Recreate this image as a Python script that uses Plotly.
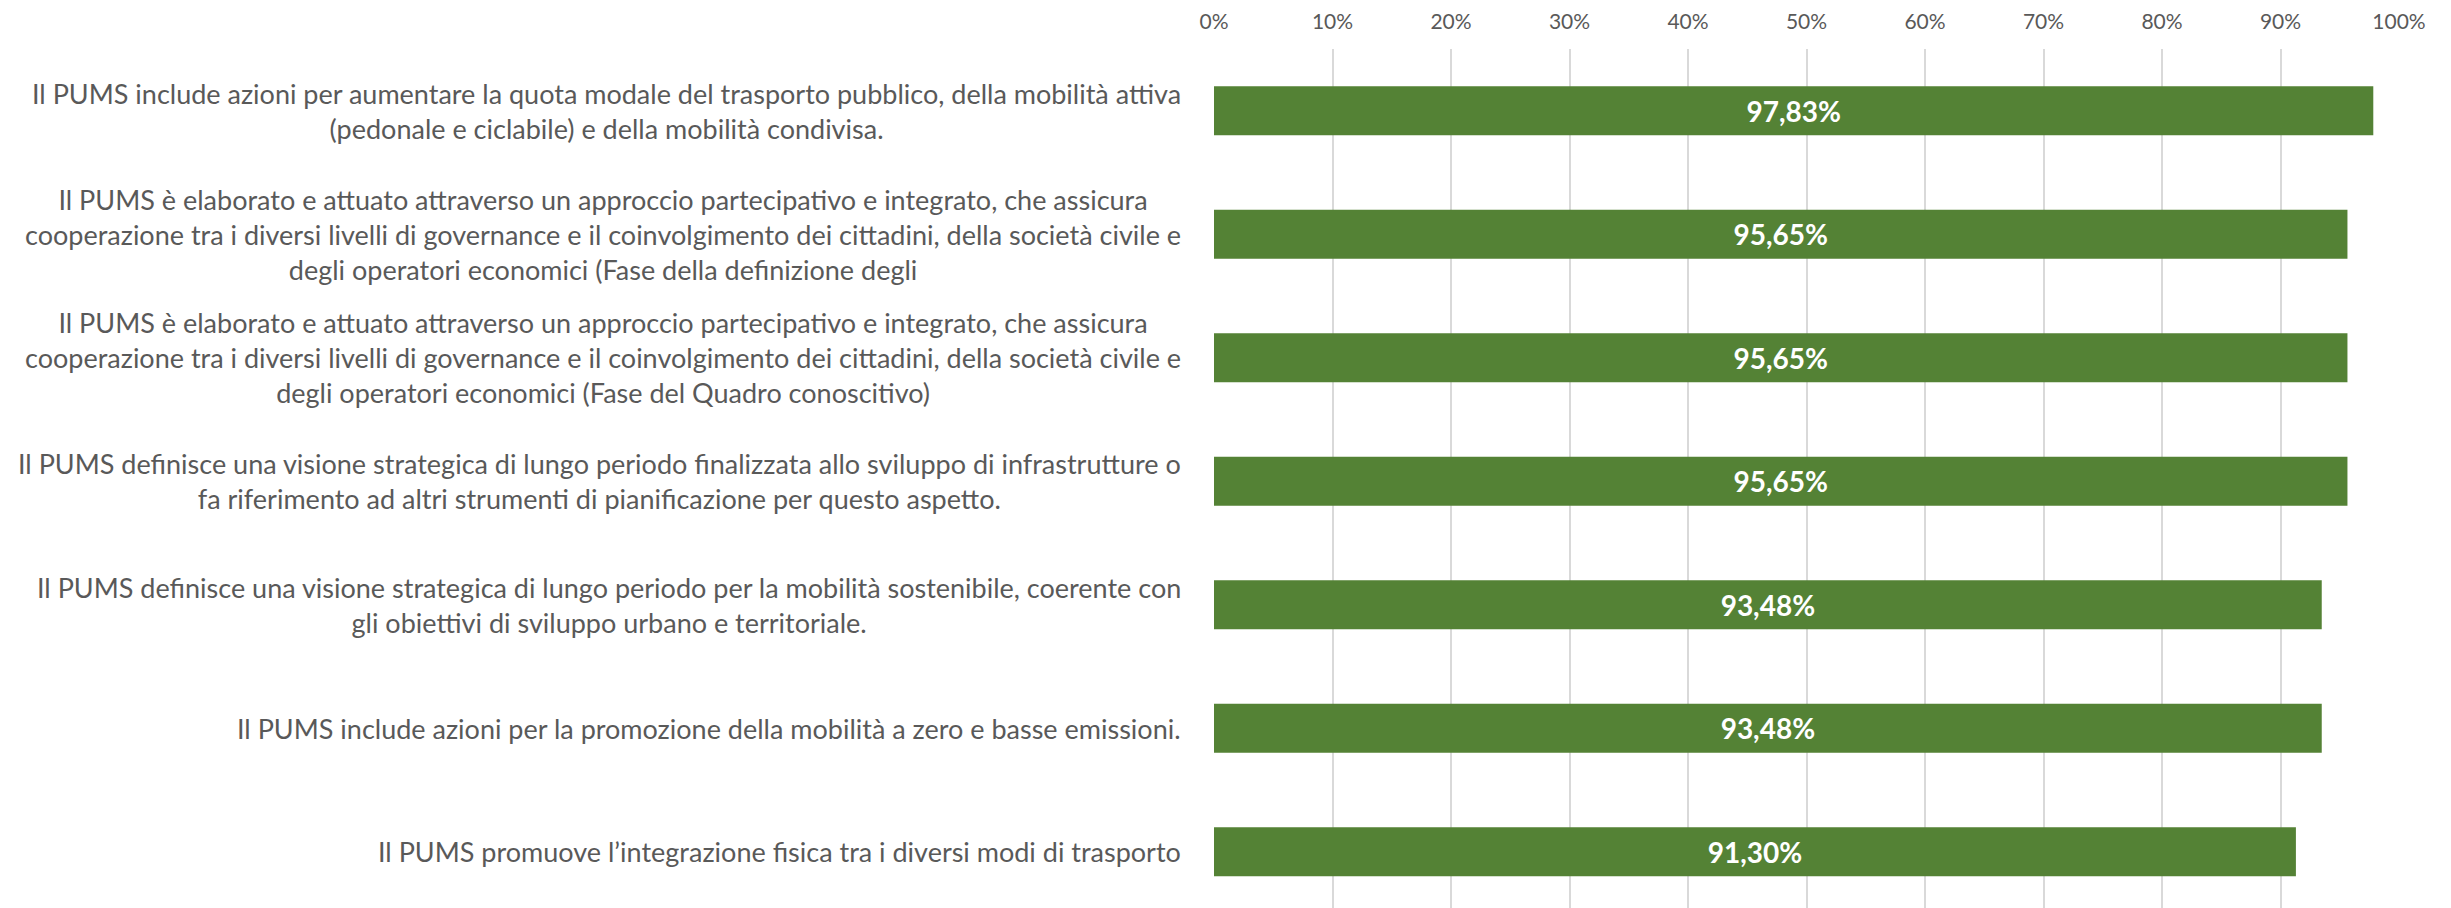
import plotly.graph_objects as go

categories = [
    "Il PUMS include azioni per aumentare la quota modale del trasporto pubblico, della mobilità attiva<br>(pedonale e ciclabile) e della mobilità condivisa.",
    "Il PUMS è elaborato e attuato attraverso un approccio partecipativo e integrato, che assicura<br>cooperazione tra i diversi livelli di governance e il coinvolgimento dei cittadini, della società civile e<br>degli operatori economici (Fase della definizione degli",
    "Il PUMS è elaborato e attuato attraverso un approccio partecipativo e integrato, che assicura<br>cooperazione tra i diversi livelli di governance e il coinvolgimento dei cittadini, della società civile e<br>degli operatori economici (Fase del Quadro conoscitivo)",
    "Il PUMS definisce una visione strategica di lungo periodo finalizzata allo sviluppo di infrastrutture o<br>fa riferimento ad altri strumenti di pianificazione per questo aspetto.",
    "Il PUMS definisce una visione strategica di lungo periodo per la mobilità sostenibile, coerente con<br>gli obiettivi di sviluppo urbano e territoriale.",
    "Il PUMS include azioni per la promozione della mobilità a zero e basse emissioni.",
    "Il PUMS promuove l’integrazione fisica tra i diversi modi di trasporto",
]
values = [97.83, 95.65, 95.65, 95.65, 93.48, 93.48, 91.30]
tick_values = [0, 10, 20, 30, 40, 50, 60, 70, 80, 90, 100]
tick_labels = [f"{t}%" for t in tick_values]

ids = list(range(len(categories)))
bar_text = [f"{v:.2f}".replace(".", ",") + "%" for v in values]

fig = go.Figure(
    go.Bar(
        x=values,
        y=ids,
        orientation="h",
        marker=dict(color="#548235", line=dict(width=0)),
        text=bar_text,
        textposition="inside",
        insidetextanchor="middle",
        textangle=0,
        constraintext="none",
        textfont=dict(family="Lato", size=28, color="white", weight="bold"),
        hoverinfo="skip",
    )
)

for i, cat in enumerate(categories):
    fig.add_annotation(
        x=0, xref="paper", xanchor="right", xshift=-31,
        y=i, yref="y", yanchor="middle",
        text=cat, showarrow=False, align="center",
        font=dict(family="Lato", size=27, color="#595959"),
    )

fig.update_layout(
    width=2451, height=908,
    margin=dict(l=1214, r=52, t=49, b=0),
    paper_bgcolor="white", plot_bgcolor="white",
    bargap=0.603,
    showlegend=False,
    xaxis=dict(
        side="top", range=[0, 100],
        tickvals=tick_values, ticktext=tick_labels,
        showgrid=True, gridcolor="#d9d9d9", gridwidth=1.5,
        zeroline=False, showline=False, ticks="", ticklen=0,
        ticklabelstandoff=15,
        tickfont=dict(family="Lato", size=21, color="#595959"),
    ),
    yaxis=dict(
        range=[6.455, -0.5],
        showticklabels=False, showgrid=False, zeroline=False, showline=False, ticks="",
    ),
)

fig.write_html("out.html")
